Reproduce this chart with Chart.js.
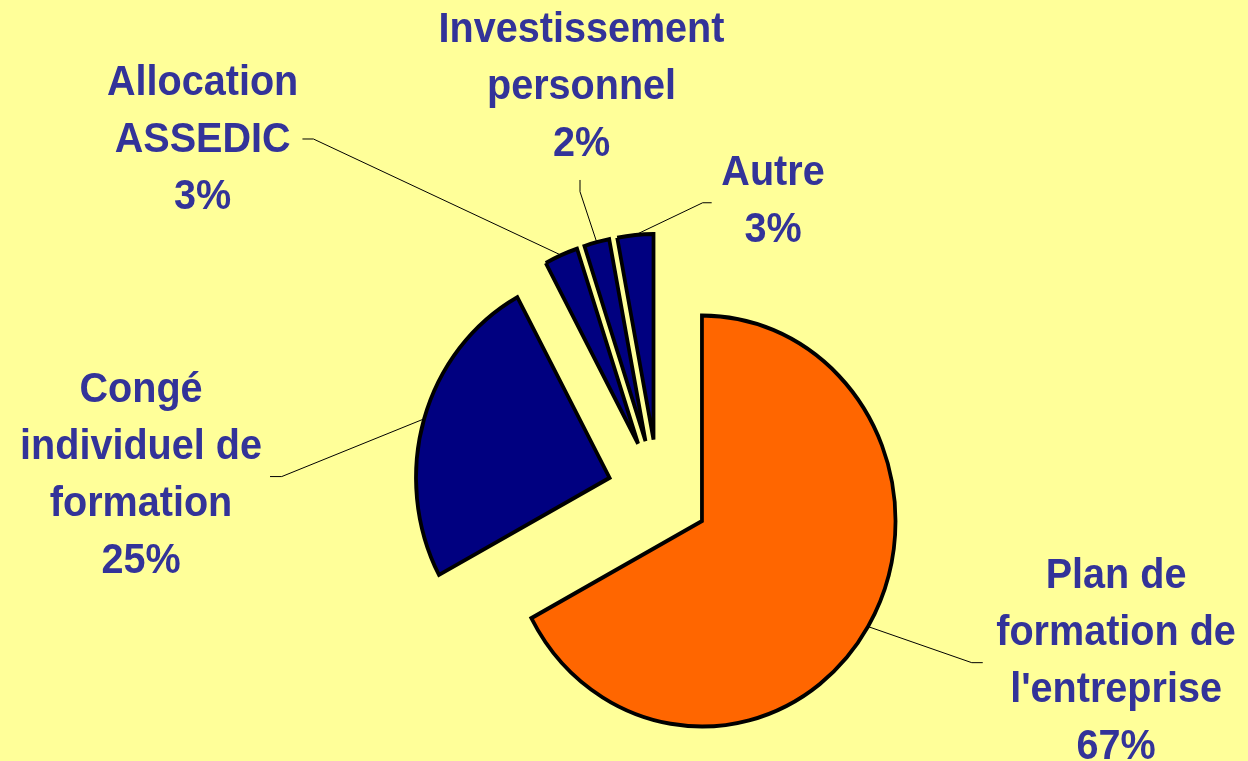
<!DOCTYPE html>
<html>
<head>
<meta charset="utf-8">
<script src="https://cdn.jsdelivr.net/npm/chart.js@4"></script>
<style>
  html, body { margin: 0; padding: 0; background: #FFFF99; }
  #wrap { width: 1248px; height: 761px; position: relative; background: #FFFF99; }
</style>
</head>
<body>
<div id="wrap"><canvas id="c"></canvas></div>
<script>
// ---- data ----
const categories = [
  ["Plan de", "formation de", "l'entreprise"],
  ["Congé", "individuel de", "formation"],
  ["Allocation", "ASSEDIC"],
  ["Investissement", "personnel"],
  ["Autre"]
];
const shares = [67.1, 24.9, 2.8, 2.1, 3.0];

// ---- styles ----
const sliceColors = ["#FF6600", "#000080", "#000080", "#000080", "#000080"];
const textColor = "#333399";
const pieRadius = 205.5;
const explodeDist = 54;
const xScale = 0.942;
const fontSize = 42;
const lineHeight = 57;
// label placement relative to the slice's outer mid-point: [elbow dx,dy, end dx,dy, text dx, first baseline dy]
const labelPlacement = [
  [103.7, 36.1, 114.7, 36.1, 248, -38.3],
  [-142.4, 57.7, -154.1, 57.7, -283.1, -17.3],
  [-247.7, -116.2, -258.7, -116.2, -358.5, -160.2],
  [-16.7, -50.5, -16.7, -62.2, -15.2, -200.5],
  [67.4, -32.2, 76.4, -32.2, 137.7, -49.9]
];

const explodePlugin = {
  id: 'explodedPie',
  beforeDatasetDraw(chart, args) {
    const ctx = chart.ctx;
    args.meta.data.forEach((arc) => {
      const mid = (arc.startAngle + arc.endAngle) / 2;
      ctx.save();
      ctx.translate(arc.x, arc.y);
      ctx.scale(xScale, 1);
      ctx.translate(Math.cos(mid) * explodeDist, Math.sin(mid) * explodeDist);
      ctx.translate(-arc.x, -arc.y);
      arc.draw(ctx);
      ctx.restore();
    });
    return false;
  },
  afterDatasetsDraw(chart) {
    const ctx = chart.ctx;
    const meta = chart.getDatasetMeta(0);
    const total = shares.reduce((a, b) => a + b, 0);
    meta.data.forEach((arc, i) => {
      const mid = (arc.startAngle + arc.endAngle) / 2;
      const r = arc.outerRadius + explodeDist;
      const ax = arc.x + xScale * Math.cos(mid) * r;
      const ay = arc.y + Math.sin(mid) * r;
      const p = labelPlacement[i];
      ctx.save();
      ctx.strokeStyle = "#000000";
      ctx.lineWidth = 1;
      ctx.beginPath();
      ctx.moveTo(ax, ay);
      ctx.lineTo(ax + p[0], ay + p[1]);
      ctx.lineTo(ax + p[2], ay + p[3]);
      ctx.stroke();
      const lines = categories[i].concat([Math.round(shares[i] / total * 100) + "%"]);
      ctx.fillStyle = textColor;
      ctx.font = "bold " + fontSize + "px 'Liberation Sans', Arial, sans-serif";
      ctx.textAlign = "center";
      ctx.textBaseline = "alphabetic";
      const tx = ax + p[4];
      lines.forEach((ln, k) => {
        ctx.save();
        ctx.translate(tx, 0);
        ctx.scale(xScale, 1);
        ctx.fillText(ln, 0, ay + p[5] + k * lineHeight);
        ctx.restore();
      });
      ctx.restore();
    });
  }
};

new Chart(document.getElementById('c'), {
  type: 'pie',
  data: {
    labels: categories,
    datasets: [{
      data: shares,
      backgroundColor: sliceColors,
      borderColor: "#000000",
      borderWidth: 4,
      borderJoinStyle: "miter",
      radius: pieRadius
    }]
  },
  options: {
    responsive: true,
    maintainAspectRatio: false,
    animation: false,
    events: [],
    layout: { padding: { left: 110, right: 41.4, top: 240, bottom: 14.4 } },
    plugins: {
      legend: { display: false },
      tooltip: { enabled: false }
    }
  },
  plugins: [explodePlugin]
});
</script>
</body>
</html>
